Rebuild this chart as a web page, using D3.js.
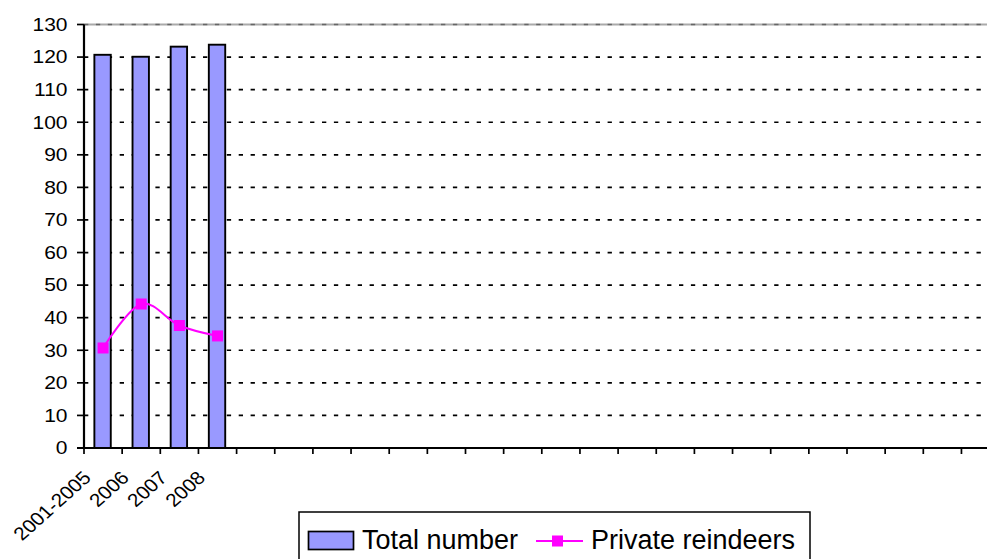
<!DOCTYPE html>
<html>
<head>
<meta charset="utf-8">
<script src="https://cdn.jsdelivr.net/npm/d3@7"></script>
<style>
  body { margin: 0; background: #fff; }
  text { font-family: "Liberation Sans", Arial, sans-serif; fill: #000; }
</style>
</head>
<body>
<svg id="chart" width="987" height="559"></svg>
<script>
// category labels (the chart has many empty slots after 2008)
var categories = ["2001-2005", "2006", "2007", "2008",
  "", "", "", "", "", "", "", "", "", "", "", "", "", "", "", "", "", "", "", ""];
var totalNumber = [120.7, 120.1, 123.2, 123.8];
var privateReindeers = [30.7, 44.2, 37.6, 34.4];
var yTicks = [0, 10, 20, 30, 40, 50, 60, 70, 80, 90, 100, 110, 120, 130];
var legendLabels = ["Total number", "Private reindeers"];

var svg = d3.select("#chart");

var plotLeft = 84, plotTop = 24.5, plotBottom = 448, step = 38.15;

var x = d3.scaleBand()
  .domain(d3.range(categories.length))
  .range([plotLeft, plotLeft + step * categories.length]);

var y = d3.scaleLinear()
  .domain([0, 130])
  .range([plotBottom, plotTop]);

///////////////////////////////////////////////////////////////////////////////
// Grid
///////////////////////////////////////////////////////////////////////////////

// plot border at the top shows through the 130 gridline
svg.append("line")
  .attr("x1", plotLeft).attr("x2", 987)
  .attr("y1", y(130)).attr("y2", y(130))
  .attr("stroke", "#aaa").attr("stroke-width", 2);

svg.append("g").selectAll("line")
  .data(yTicks.filter(function (d) { return d > 0; }))
  .enter().append("line")
  .attr("x1", plotLeft).attr("x2", 987)
  .attr("y1", function (d) { return y(d); })
  .attr("y2", function (d) { return y(d); })
  .attr("stroke", function (d) { return d === 130 ? "#666" : "#000"; })
  .attr("stroke-width", 1.7)
  .attr("stroke-dasharray", "4.3,7.6");

///////////////////////////////////////////////////////////////////////////////
// Bars and line
///////////////////////////////////////////////////////////////////////////////

var barW = 16.4;

svg.append("g").selectAll("rect")
  .data(totalNumber)
  .enter().append("rect")
  .attr("x", function (d, i) { return x(i) + x.bandwidth() / 2 - barW / 2 - 0.5; })
  .attr("y", function (d) { return y(d); })
  .attr("width", barW)
  .attr("height", function (d) { return y(0) - y(d); })
  .attr("fill", "#9999ff")
  .attr("stroke", "#000")
  .attr("stroke-width", 1.9);

var line = d3.line()
  .x(function (d, i) { return x(i) + x.bandwidth() / 2; })
  .y(function (d) { return y(d); })
  .curve(d3.curveCardinal.tension(0));

svg.append("path")
  .datum(privateReindeers)
  .attr("d", line)
  .attr("fill", "none")
  .attr("stroke", "#ff00ff")
  .attr("stroke-width", 2);

svg.append("g").selectAll("rect")
  .data(privateReindeers)
  .enter().append("rect")
  .attr("x", function (d, i) { return x(i) + x.bandwidth() / 2 - 5.5; })
  .attr("y", function (d) { return y(d) - 5.5; })
  .attr("width", 11)
  .attr("height", 11)
  .attr("fill", "#ff00ff");

///////////////////////////////////////////////////////////////////////////////
// Axes
///////////////////////////////////////////////////////////////////////////////

svg.append("line")
  .attr("x1", plotLeft).attr("x2", plotLeft)
  .attr("y1", y(0) + 1).attr("y2", y(130))
  .attr("stroke", "#000").attr("stroke-width", 2.2);

svg.append("line")
  .attr("x1", plotLeft - 7).attr("x2", 987)
  .attr("y1", y(0)).attr("y2", y(0))
  .attr("stroke", "#000").attr("stroke-width", 2.2);

// y ticks and labels (text is stretched wide in the original)
var yAxis = svg.append("g");
yAxis.selectAll("line")
  .data(yTicks)
  .enter().append("line")
  .attr("x1", plotLeft - 7).attr("x2", plotLeft)
  .attr("y1", function (d) { return y(d); })
  .attr("y2", function (d) { return y(d); })
  .attr("stroke", "#000").attr("stroke-width", 1.7);

yAxis.selectAll("text")
  .data(yTicks)
  .enter().append("text")
  .attr("transform", function (d) {
    return "translate(67.5," + y(d) + ") scale(1.2,1)";
  })
  .attr("dy", "0.36em")
  .attr("text-anchor", "end")
  .style("font-size", "17.5px")
  .text(function (d) { return d; });

// x ticks at band edges
svg.append("g").selectAll("line")
  .data(d3.range(categories.length + 1))
  .enter().append("line")
  .attr("x1", function (i) { return plotLeft + i * step; })
  .attr("x2", function (i) { return plotLeft + i * step; })
  .attr("y1", y(0))
  .attr("y2", y(0) + 6)
  .attr("stroke", "#000").attr("stroke-width", 1.7);

svg.append("g").selectAll("text")
  .data(categories)
  .enter().append("text")
  .attr("transform", function (d, i) {
    return "translate(" + (x(i) + x.bandwidth() / 2 - 11) + ",479) scale(1.12,1) rotate(-45)";
  })
  .attr("text-anchor", "end")
  .style("font-size", "18.5px")
  .text(function (d) { return d; });

///////////////////////////////////////////////////////////////////////////////
// Legend
///////////////////////////////////////////////////////////////////////////////

var legend = svg.append("g");

legend.append("rect")
  .attr("x", 299).attr("y", 512)
  .attr("width", 511).attr("height", 60)
  .attr("fill", "#fff")
  .attr("stroke", "#000").attr("stroke-width", 1.5);

legend.append("rect")
  .attr("x", 308.5).attr("y", 531.5)
  .attr("width", 45).attr("height", 18)
  .attr("fill", "#9999ff")
  .attr("stroke", "#000").attr("stroke-width", 1.7);

legend.append("text")
  .attr("x", 362).attr("y", 548.5)
  .attr("textLength", 156)
  .attr("lengthAdjust", "spacingAndGlyphs")
  .style("font-size", "27px")
  .text(legendLabels[0]);

legend.append("line")
  .attr("x1", 536).attr("x2", 583)
  .attr("y1", 541).attr("y2", 541)
  .attr("stroke", "#ff00ff").attr("stroke-width", 2);

legend.append("rect")
  .attr("x", 552).attr("y", 535.5)
  .attr("width", 11).attr("height", 11)
  .attr("fill", "#ff00ff");

legend.append("text")
  .attr("x", 591).attr("y", 548.5)
  .attr("textLength", 204)
  .attr("lengthAdjust", "spacingAndGlyphs")
  .style("font-size", "27px")
  .text(legendLabels[1]);
</script>
</body>
</html>
